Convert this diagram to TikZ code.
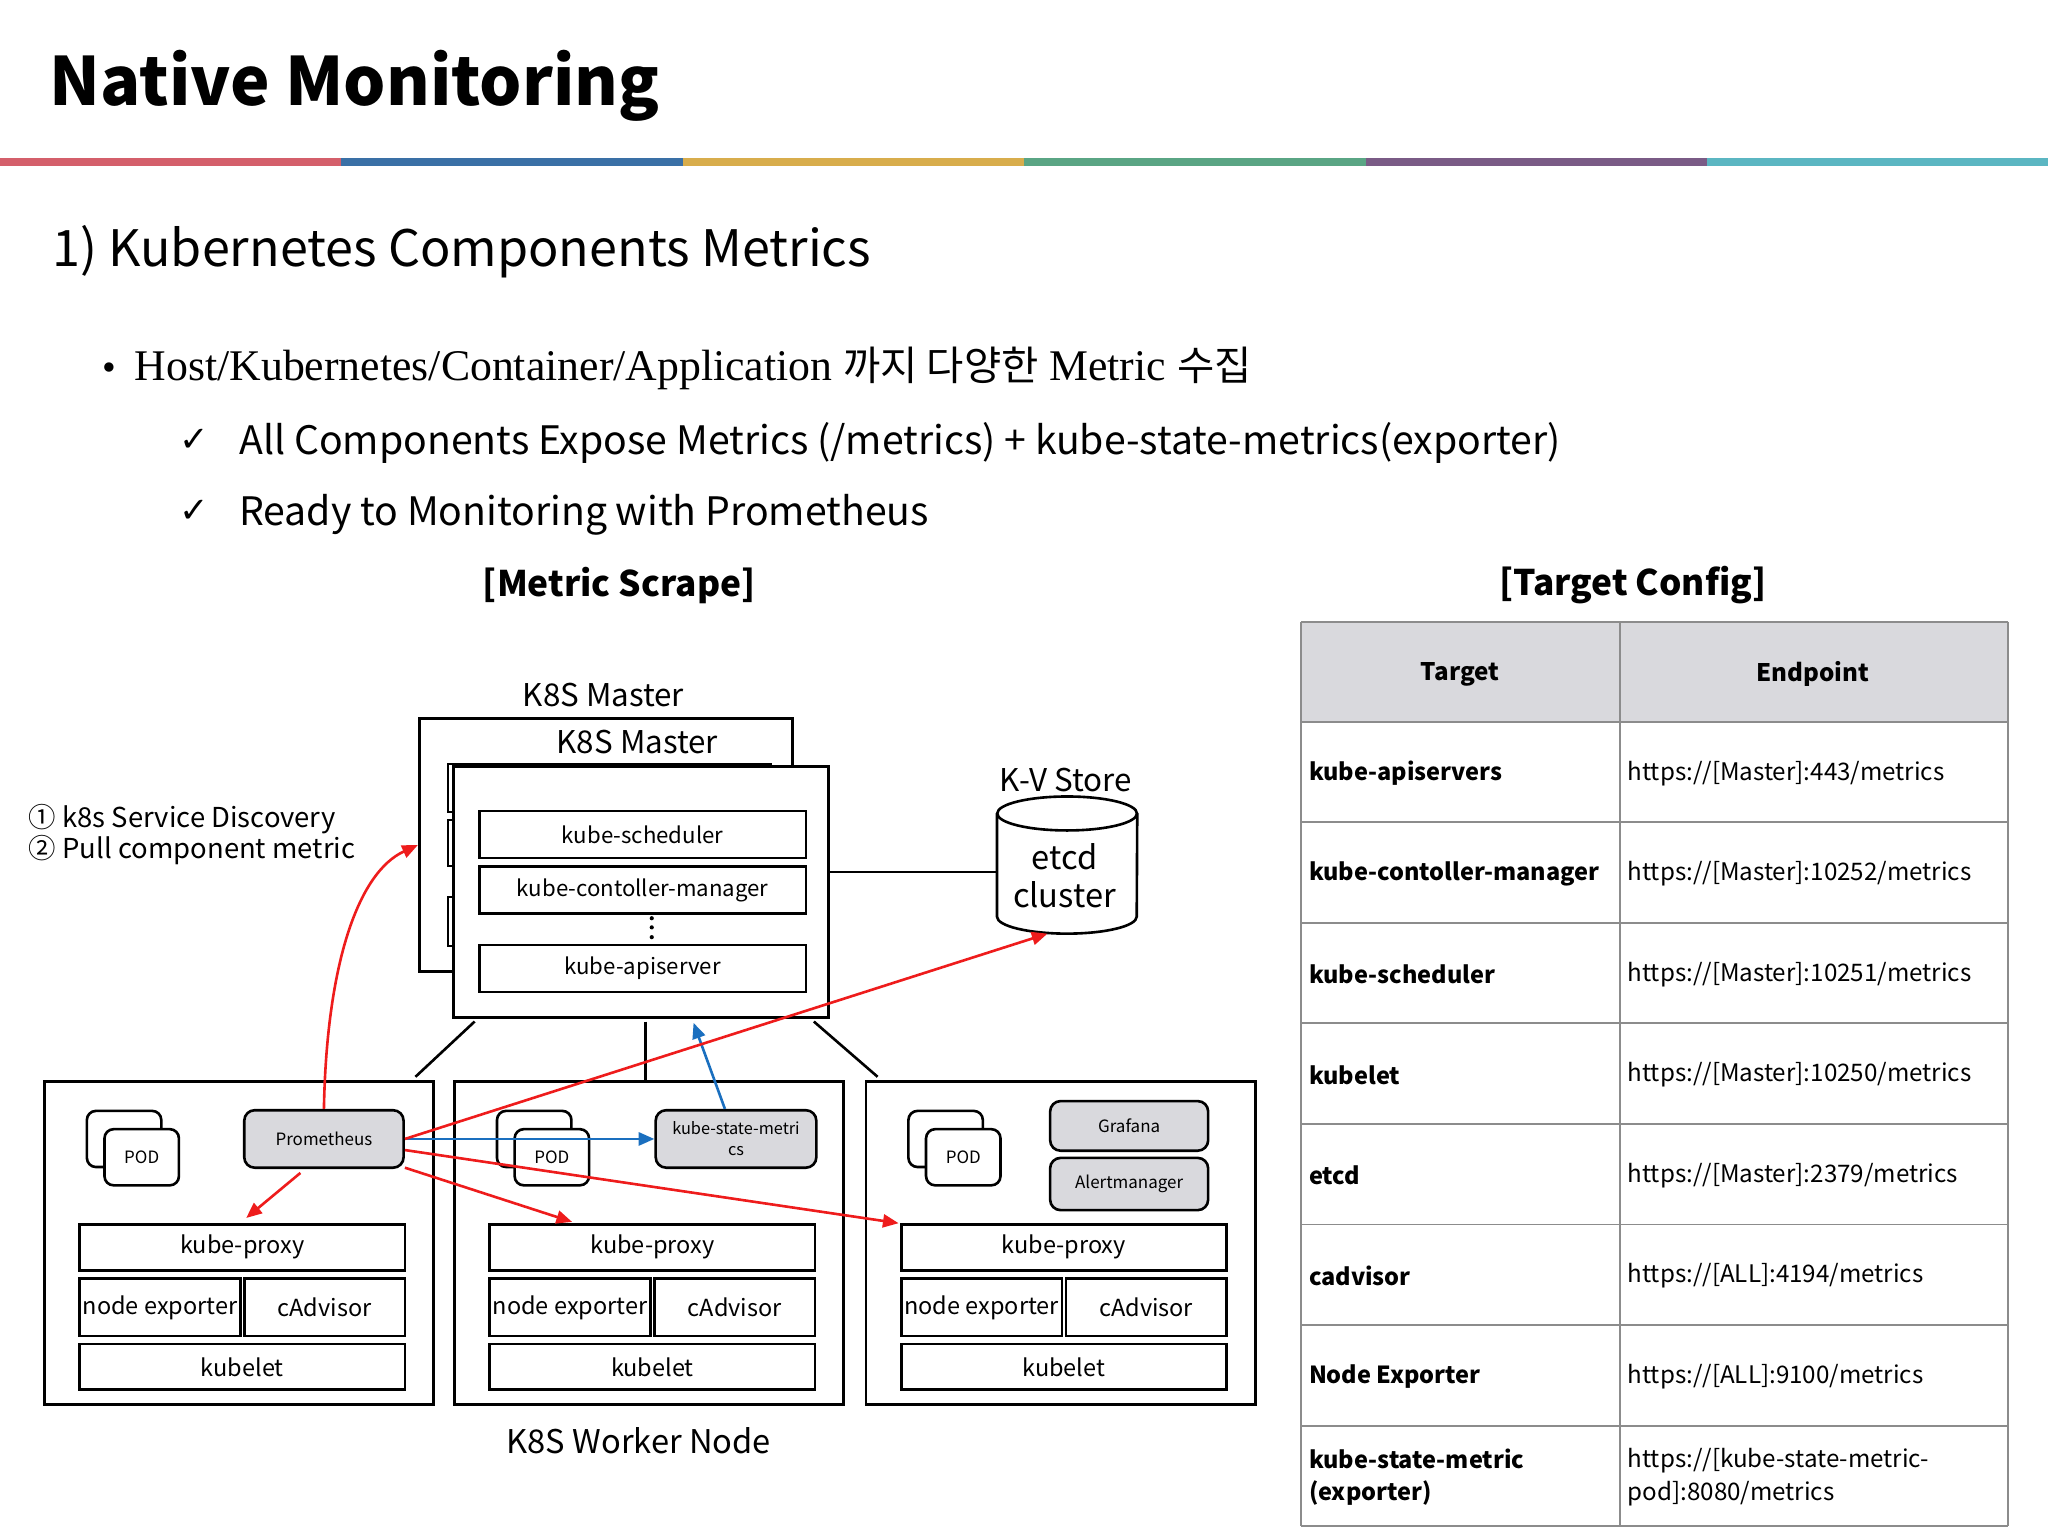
\documentclass[tikz,border=0pt]{standalone}
\usepackage{fontspec}
\setmainfont{Noto Sans CJK KR}
\newfontfamily\serifrm{Liberation Serif}
\newfontfamily\kofont{Noto Sans CJK KR}
\newfontfamily\symrm{DejaVu Sans}
\usepackage{xcolor}
\usepackage{tikz}
\usetikzlibrary{arrows.meta, positioning, calc, shapes.geometric}

\definecolor{barred}{HTML}{D45F6B}
\definecolor{barblue}{HTML}{3A70A6}
\definecolor{baryellow}{HTML}{D8AD4C}
\definecolor{bargreen}{HTML}{5AA584}
\definecolor{barpurple}{HTML}{7A5B86}
\definecolor{barteal}{HTML}{5BB6C2}
\definecolor{boxgrey}{HTML}{D9D9DD}
\definecolor{tblline}{HTML}{8C8C8C}
\definecolor{scrapered}{HTML}{EE1C1C}
\definecolor{scrapeblue}{HTML}{1A6FBF}

\newcommand{\fsz}[2]{\fontsize{#1}{#2}\selectfont}

\begin{document}
\begin{tikzpicture}[x=1pt, y=-1pt,
    % Styles
    hostbox/.style={draw, line width=2.2pt, inner sep=0pt},
    comp/.style={draw, line width=2pt, inner sep=0pt, font=\fsz{18}{21}},
    mcomp/.style={draw, line width=2pt, inner sep=0pt, minimum width=250, minimum height=36, font=\fsz{17}{20}},
    podbox/.style={draw, line width=2pt, rounded corners=7, fill=white, minimum width=57, minimum height=43, font=\fsz{13}{15}},
    appbox/.style={draw, line width=2pt, rounded corners=8, fill=boxgrey, inner sep=0pt, align=center, font=\fsz{13}{16}},
    lbl/.style={inner sep=0pt, font=\fsz{24}{28}},
    link/.style={line width=2pt},
    redarrow/.style={-{Triangle[length=12pt, width=10pt]}, line width=2pt, scrapered},
    bluearrow/.style={-{Triangle[length=12pt, width=10pt]}, line width=2pt, scrapeblue},
    thead/.style={font=\bfseries\fsz{18.5}{24}, inner sep=0pt},
    tcell/.style={font=\fsz{18.5}{25}, inner sep=0pt, anchor=west, align=left}
  ]
    \useasboundingbox (0,0) rectangle (1568,1176);

    % === Title and colour bar ===
    \node[anchor=base west, inner sep=0pt, font=\bfseries\fsz{51}{56}] (title) at (38,81) {Native Monitoring};
    \foreach \c [count=\i from 0] in {barred, barblue, baryellow, bargreen, barpurple, barteal}
      \fill[\c] (\i*261.4,121) rectangle ++(261.4,6);

    % === Text ===
    \node[anchor=base west, inner sep=0pt, font=\fsz{38.5}{44}] (subtitle) at (40,204) {1)~Kubernetes Components Metrics};
    \node[anchor=base west, inner sep=0pt, font=\serifrm\fsz{30}{34}] (bul) at (78,291) {•};
    \node[anchor=base west, inner sep=0pt, font=\serifrm\fsz{33.5}{38}] (item0) at (103,291)
      {Host/Kubernetes/Container/Application {\kofont\fsz{31}{36}까지 다양한} Metric {\kofont\fsz{31}{36}수집}};
    \node[anchor=base west, inner sep=0pt, font=\symrm\fsz{27}{30}] (chk1) at (137,346) {✓};
    \node[anchor=base west, inner sep=0pt, font=\fsz{30}{34}] (item1) at (183,348)
      {All Components Expose Metrics (/metrics) + kube-state-metrics(exporter)};
    \node[anchor=base west, inner sep=0pt, font=\symrm\fsz{27}{30}] (chk2) at (137,400) {✓};
    \node[anchor=base west, inner sep=0pt, font=\fsz{30}{34}] (item2) at (183,402)
      {Ready to Monitoring with Prometheus};
    \node[inner sep=0pt, font=\bfseries\fsz{27}{30}] (scrapettl) at (474,448) {[Metric Scrape]};
    \node[inner sep=0pt, font=\bfseries\fsz{27}{30}] (configttl) at (1250,448) {[Target Config]};
    \node[anchor=west, align=left, inner sep=0pt, font=\fsz{21}{24}] (legend) at (22,639)
      {① k8s Service Discovery\\② Pull component metric};

    % === K8S master ===
    \node[lbl] (masterlbl) at (462,532) {K8S Master};
    \node[hostbox, minimum width=286, minimum height=194] (backmaster) at (464,647) {};
    \node[lbl] (innerlbl) at (488,568) {K8S Master};
    \draw[link] (343,585) -- (591,585);
    \foreach \a/\b in {585/622, 628/663, 687/724}
      \draw[line width=1.6pt] (343,\a) rectangle (348,\b);
    \node[hostbox, fill=white, minimum width=287, minimum height=192] (master) at (490.5,683) {};
    \node[mcomp] (sched) at (492,639) {kube-scheduler};
    \node[mcomp] (ctrl) at (492,681.5) {kube-contoller-manager};
    \node[mcomp] (apisrv) at (492,741.5) {kube-apiserver};
    \foreach \d in {703,710,717.5}
      \fill (499,\d) circle (1.6);

    % === K-V store ===
    \node[lbl] (kvlbl) at (816,597) {K-V Store};
    \node[minimum width=107, minimum height=104.6, inner sep=0pt] (etcd) at (817,662.3) {};
    \draw[link] ($(etcd.north west)+(0,13)$) -- ($(etcd.south west)+(0,-13)$)
      arc[start angle=180, end angle=0, x radius=53.5, y radius=13] -- ($(etcd.north east)+(0,13)$);
    \draw[link] ($(etcd.north)+(0,13)$) ellipse[x radius=53.5, y radius=13];
    \node[align=center, inner sep=0pt, font=\fsz{25}{29}] (etcdtxt) at (815,670.5) {etcd\\cluster};
    \draw[link] (master.east |- 0,667.5) -- (etcd.west |- 0,667.5);

    % === Worker nodes ===
    \foreach \x/\n in {34/1, 348/2, 663/3} {
      \node[hostbox, minimum width=298, minimum height=247] (w\n) at (\x+149,951.5) {};
      \node[podbox] (podb\n) at (\x+61,872) {};
      \node[podbox] (pod\n) at (\x+74.5,886) {POD};
      \node[comp, minimum width=249, minimum height=35] (kp\n) at (\x+151.5,955) {kube-proxy};
      \node[comp, minimum width=123, minimum height=44] (nx\n) at (\x+88.5,1001) {node exporter};
      \node[comp, minimum width=123, minimum height=44] (cad\n) at (\x+214.5,1001) {cAdvisor};
      \node[comp, minimum width=249, minimum height=35] (klt\n) at (\x+151.5,1046.5) {kubelet};
    }
    \node[appbox, minimum width=122, minimum height=44] (prom) at (248,872) {Prometheus};
    \node[appbox, minimum width=123, minimum height=44, font=\fsz{12.5}{16}] (ksm) at (563.5,872) {kube-state-metri\\cs};
    \node[appbox, minimum width=121, minimum height=38] (grafana) at (864.5,862) {Grafana};
    \node[appbox, minimum width=121, minimum height=40] (alert) at (864.5,906.5) {Alertmanager};
    \node[lbl, font=\fsz{25}{29}] (workerlbl) at (489,1103) {K8S Worker Node};

    % master <-> workers
    \draw[link] ($(master.south west)+(17.5,2)$) -- ($(w1.north east)+(-15,-2.5)$);
    \draw[link] ($(master.south)+(3.5,2)$) coordinate (mdrop) -- (mdrop |- w2.north);
    \draw[link] ($(master.south east)+(-12,2)$) -- ($(w3.north west)+(10,-2.5)$);

    % === Scrape arrows ===
    \draw[bluearrow] (prom.east) -- (ksm.west);
    \draw[bluearrow] ($(ksm.north)+(-8.5,0)$) -- ($(master.south)+(40.5,3)$);
    \draw[redarrow] (prom.north) .. controls ++(2,-110) and ++(-46,21) .. (backmaster.west);
    \draw[redarrow] ($(prom.south)+(-18,3)$) -- ($(kp1.north)+(3,-4)$);
    \draw[redarrow] ($(prom.south east)+(0,-1)$) -- ($(kp2.north west)+(64,-1)$);
    \draw[redarrow] ($(prom.east)+(0,8.5)$) -- ($(kp3.north west)+(-1,0)$);
    \draw[redarrow] (prom.east) -- ($(etcd.south)+(-15,0)$);

    % === Target config table ===
    \fill[boxgrey] (996,476) rectangle (1537,552.5);
    \foreach \y in {476, 552.5, 629.5, ..., 1168.5}
      \draw[tblline, line width=1.5pt] (996,\y) -- (1537,\y);
    \foreach \x in {996, 1240.5, 1537}
      \draw[tblline, line width=1.5pt] (\x,476) -- (\x,1168.5);
    \node[thead] (thtarget) at (1118,516) {Target};
    \node[thead] (thendpoint) at (1388,516) {Endpoint};
    \foreach \tgt/\ep [count=\i] in {
        {kube-apiservers}/{https://[Master]:443/metrics},
        {kube-contoller-manager}/{https://[Master]:10252/metrics},
        {kube-scheduler}/{https://[Master]:10251/metrics},
        {kubelet}/{https://[Master]:10250/metrics},
        {etcd}/{https://[Master]:2379/metrics},
        {cadvisor}/{https://[ALL]:4194/metrics},
        {Node Exporter}/{https://[ALL]:9100/metrics},
        {kube-state-metric\\(exporter)}/{https://[kube-state-metric-\\pod]:8080/metrics}} {
      \node[tcell, font=\bfseries\fsz{18}{25}] (tg\i) at (1002,515+77*\i) {\tgt};
      \node[tcell] (ep\i) at (1246,515+77*\i) {\ep};
    }
  \end{tikzpicture}
\end{document}
